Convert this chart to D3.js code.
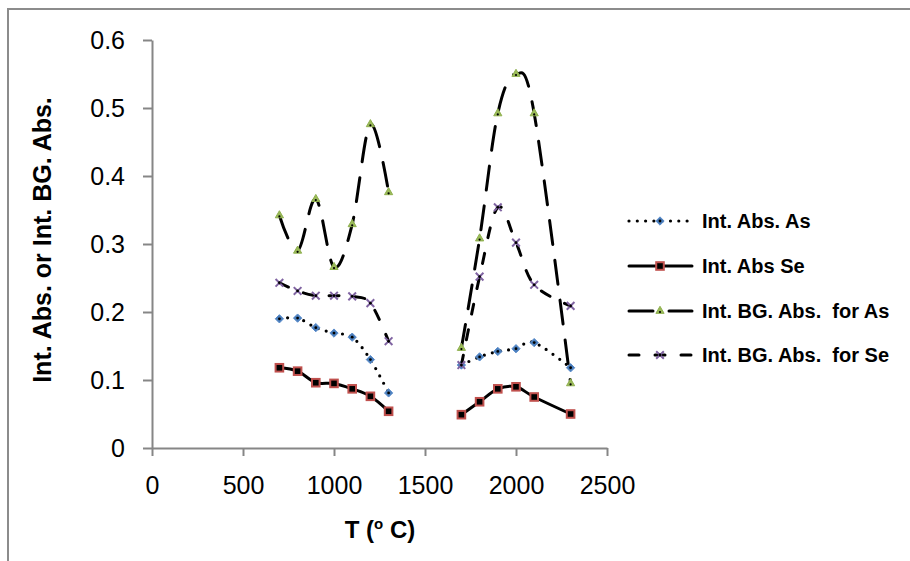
<!DOCTYPE html>
<html lang="en">
<head>
  <meta charset="utf-8">
  <title>Int. Abs. vs T</title>
  <script src="https://d3js.org/d3.v7.min.js"></script>
  <style>
    body { margin: 0; background: #fff; }
    svg { display: block; font-family: "Liberation Sans", Arial, sans-serif; }
    .tick text { font-size: 25px; fill: #000; }
    .tick line, .domain { stroke: #868686; stroke-width: 2; }
    .title { font-weight: bold; font-size: 24px; fill: #000; }
    .legend text { font-weight: bold; font-size: 20px; fill: #000; white-space: pre; }
  </style>
</head>
<body>
<svg id="chart" width="910" height="561"></svg>
<script>
// temperatures (deg C); 1500 is an empty cell so the lines break there
const temps = [700, 800, 900, 1000, 1100, 1200, 1300, 1500, 1700, 1800, 1900, 2000, 2100, 2300];

const absAs = [0.190, 0.191, 0.177, 0.169, 0.163, 0.130, 0.081, null, 0.122, 0.134, 0.142, 0.146, 0.155, 0.118];
const absSe = [0.118, 0.113, 0.096, 0.095, 0.087, 0.076, 0.054, null, 0.049, 0.068, 0.087, 0.090, 0.075, 0.050];
const bgAs  = [0.342, 0.290, 0.366, 0.266, 0.329, 0.476, 0.376, null, 0.147, 0.308, 0.492, 0.550, 0.492, 0.095];
const bgSe  = [0.243, 0.231, 0.224, 0.224, 0.223, 0.213, 0.157, null, 0.122, 0.252, 0.354, 0.302, 0.240, 0.209];

const seriesNames = ['Int. Abs. As', 'Int. Abs Se', 'Int. BG. Abs.  for As', 'Int. BG. Abs.  for Se'];

const xTicks = [0, 500, 1000, 1500, 2000, 2500];
const yTicks = [0, 0.1, 0.2, 0.3, 0.4, 0.5, 0.6];

const svg = d3.select('#chart');

// chart frame (cropped on right and bottom)
svg.append('rect')
  .attr('x', 8).attr('y', 9)
  .attr('width', 1000).attr('height', 1000)
  .attr('fill', 'none')
  .attr('stroke', '#8c8c8c')
  .attr('stroke-width', 2);

const x = d3.scaleLinear().domain([0, 2500]).range([152, 607]);
const y = d3.scaleLinear().domain([0, 0.6]).range([448, 40]);

// axes
svg.append('g')
  .attr('transform', 'translate(152,0)')
  .call(d3.axisLeft(y).tickValues(yTicks).tickSize(9).tickSizeOuter(0).tickPadding(18)
    .tickFormat(d => d === 0 ? '0' : d3.format('.1f')(d)));

svg.append('g')
  .attr('transform', 'translate(0,448)')
  .call(d3.axisBottom(x).tickValues(xTicks).tickSize(8).tickSizeOuter(0).tickPadding(20)
    .tickFormat(d3.format('d')));

svg.selectAll('.tick text').attr('font-family', null);
svg.selectAll('.domain').attr('stroke', '#868686');

// axis titles
const xt = svg.append('text')
  .attr('class', 'title')
  .attr('x', 380).attr('y', 538)
  .attr('text-anchor', 'middle');
xt.append('tspan').text('T (');
xt.append('tspan').text('o').attr('font-size', 15).attr('dy', -9);
xt.append('tspan').text(' C)').attr('dy', 9);

svg.append('text')
  .attr('class', 'title')
  .attr('font-size', 25)
  .style('font-size', '25px')
  .attr('transform', 'translate(51,240) rotate(-90)')
  .attr('text-anchor', 'middle')
  .text('Int. Abs. or Int. BG. Abs.');

// line styles per series
const styles = [
  { dash: '0 8.3', width: 3.2, marker: 'diamond', color: '#4a7ebb' },
  { dash: null, width: 3, marker: 'square', color: '#c0504d' },
  { dash: '24 16', width: 3, marker: 'triangle', color: '#9bbb59' },
  { dash: '10 16', width: 3, marker: 'cross', color: '#8064a2' }
];

const allSeries = [absAs, absSe, bgAs, bgSe];

const line = d3.line()
  .defined(d => d.v != null)
  .x(d => x(d.t))
  .y(d => y(d.v))
  .curve(d3.curveCatmullRom.alpha(0));

function drawMarker(g, kind, color, cx, cy) {
  if (kind === 'diamond') {
    g.append('path')
      .attr('d', d3.symbol(d3.symbolDiamond2, 44)())
      .attr('transform', `translate(${cx},${cy})`)
      .attr('fill', color).attr('stroke', '#5a8ccc').attr('stroke-width', 1);
    g.append('circle').attr('cx', cx).attr('cy', cy).attr('r', 1.4).attr('fill', '#000');
  } else if (kind === 'square') {
    g.append('rect')
      .attr('x', cx - 3.8).attr('y', cy - 3.8).attr('width', 7.6).attr('height', 7.6)
      .attr('fill', '#000').attr('stroke', color).attr('stroke-width', 2);
  } else if (kind === 'triangle') {
    g.append('path')
      .attr('d', d3.symbol(d3.symbolTriangle2, 48)())
      .attr('transform', `translate(${cx},${cy})`)
      .attr('fill', color).attr('stroke', '#8fb04f').attr('stroke-width', 1);
    g.append('circle').attr('cx', cx).attr('cy', cy + 1).attr('r', 1.1).attr('fill', '#000');
  } else {
    g.append('path')
      .attr('d', d3.symbol(d3.symbolX, 40)())
      .attr('transform', `translate(${cx},${cy})`)
      .attr('fill', 'none').attr('stroke', color).attr('stroke-width', 2);
    g.append('circle').attr('cx', cx).attr('cy', cy).attr('r', 1.4).attr('fill', '#000');
  }
}

allSeries.forEach((vals, i) => {
  const st = styles[i];
  const pts = temps.map((t, j) => ({ t: t, v: vals[j] }));
  const g = svg.append('g');
  g.append('path')
    .datum(pts)
    .attr('d', line)
    .attr('fill', 'none')
    .attr('stroke', '#000')
    .attr('stroke-width', st.width)
    .attr('stroke-linecap', 'round')
    .attr('stroke-dasharray', st.dash);
  pts.filter(d => d.v != null).forEach(d => drawMarker(g, st.marker, st.color, x(d.t), y(d.v)));
});

// legend
const legendY = [221, 266, 311, 355];
const legend = svg.append('g').attr('class', 'legend');
seriesNames.forEach((name, i) => {
  const st = styles[i];
  const row = legend.append('g');
  row.append('line')
    .attr('x1', 629).attr('x2', 692)
    .attr('y1', legendY[i]).attr('y2', legendY[i])
    .attr('stroke', '#000')
    .attr('stroke-width', st.width)
    .attr('stroke-linecap', 'round')
    .attr('stroke-dasharray', st.dash);
  drawMarker(row, st.marker, st.color, 660, legendY[i]);
  row.append('text')
    .attr('x', 702).attr('y', legendY[i] + 7)
    .text(name);
});
</script>
</body>
</html>
